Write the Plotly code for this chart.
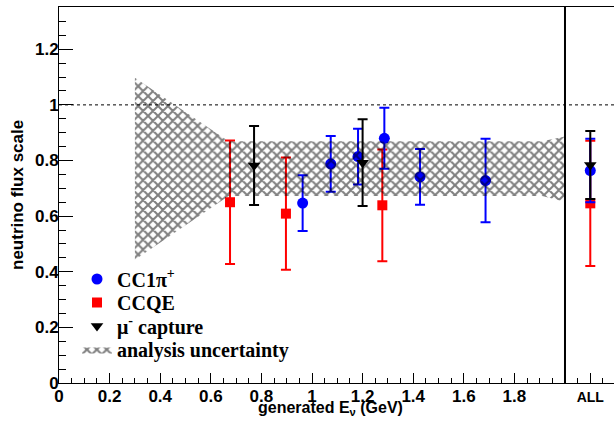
import plotly.graph_objects as go

# ---------------- data ----------------
ALL_POS = 2.1  # x position of the "ALL" category

cc1pi_E = [0.963, 1.074, 1.182, 1.286, 1.427, 1.686, ALL_POS]
cc1pi_v = [0.647, 0.788, 0.814, 0.880, 0.741, 0.728, 0.764]
cc1pi_err = [0.100, 0.100, 0.100, 0.110, 0.100, 0.150, 0.114]

ccqe_E = [0.676, 0.897, 1.278, ALL_POS]
ccqe_v = [0.650, 0.609, 0.639, 0.646]
ccqe_err = [0.222, 0.202, 0.201, 0.225]

mu_E = [0.771, 1.200, ALL_POS]
mu_v = [0.782, 0.792, 0.784]
mu_err = [0.142, 0.156, 0.122]

band_E = [0.30, 0.67, 1.00, 1.50, 1.91, 2.00]
band_hi = [1.098, 0.869, 0.869, 0.869, 0.869, 0.886]
band_lo = [0.443, 0.672, 0.672, 0.672, 0.672, 0.652]

x_tickvals = [0, 0.2, 0.4, 0.6, 0.8, 1.0, 1.2, 1.4, 1.6, 1.8, ALL_POS]
x_ticktext = ["0", "0.2", "0.4", "0.6", "0.8", "1", "1.2", "1.4", "1.6", "1.8",
              "<span style='font-size:14px'>ALL</span>"]
y_tickvals = [0, 0.2, 0.4, 0.6, 0.8, 1.0, 1.2]
y_ticktext = ["0", "0.2", "0.4", "0.6", "0.8", "1", "1.2"]

X_MAX = 2.1937
Y_MAX = 1.352

SANS = "Liberation Sans, Arial, sans-serif"
SERIF = "Liberation Serif, Times New Roman, serif"

PLOT_L, PLOT_W, PLOT_B, PLOT_H = 59, 555, 383, 376


def px_x(p):
    return (p - PLOT_L) / PLOT_W


def px_y(p):
    return (PLOT_B - p) / PLOT_H


fig = go.Figure()


def err(vals, color):
    return dict(type="data", array=vals, visible=True, color=color,
                thickness=2, width=5)


fig.add_trace(go.Scatter(
    x=ccqe_E, y=ccqe_v, mode="markers", name="<b>CCQE</b>", legend="legend2",
    marker=dict(symbol="square", size=10, color="#ff0000", line=dict(width=0)),
    error_y=err(ccqe_err, "#ff0000")))

fig.add_trace(go.Scatter(
    x=cc1pi_E, y=cc1pi_v, mode="markers", name="<b>CC1π<sup>+</sup></b>", legend="legend",
    marker=dict(symbol="circle", size=11, color="#0000ff", line=dict(width=0)),
    error_y=err(cc1pi_err, "#0000ff")))

fig.add_trace(go.Scatter(
    x=mu_E, y=mu_v, mode="markers", name="<b>μ<sup>-</sup> capture</b>", legend="legend3",
    marker=dict(symbol="triangle-down", size=11, color="black", line=dict(width=0)),
    error_y=err(mu_err, "black")))

fig.add_trace(go.Scatter(
    x=band_E + band_E[::-1], y=band_hi + band_lo[::-1],
    mode="lines", fill="toself", name="<b>analysis uncertainty</b>", legend="legend4",
    line=dict(width=0, color="rgba(0,0,0,0)"),
    fillcolor="black",
    fillpattern=dict(shape="x", size=7, solidity=0.5, fgcolor="black",
                     bgcolor="rgba(0,0,0,0)"),
    hoverinfo="skip"))

# reference lines
fig.add_shape(type="line", xref="x", yref="y", x0=0, x1=X_MAX, y0=1, y1=1,
              line=dict(color="black", width=1, dash="dot"))
fig.add_shape(type="line", xref="x", yref="y", x0=2.0, x1=2.0, y0=0, y1=Y_MAX,
              line=dict(color="black", width=2))

fig.add_annotation(text="<b>neutrino flux scale</b>", xref="paper", yref="paper",
                   x=px_x(17), y=0.5, xanchor="center", yanchor="middle",
                   textangle=-90, showarrow=False,
                   font=dict(family=SANS, size=17, color="black"))
fig.add_annotation(text="<b>generated E<sub>ν</sub> (GeV)</b>", xref="paper", yref="paper",
                   x=px_x(330), y=px_y(408), xanchor="center", yanchor="middle",
                   showarrow=False,
                   font=dict(family=SANS, size=16, color="black"))


def leg(center_y):
    return dict(x=px_x(77), y=px_y(center_y), xanchor="left", yanchor="middle",
                bgcolor="rgba(0,0,0,0)", borderwidth=0,
                font=dict(family=SERIF, size=20, color="black", weight="bold"))


fig.update_layout(
    width=614, height=422,
    margin=dict(l=PLOT_L, r=0, t=7, b=39),
    paper_bgcolor="white", plot_bgcolor="white",
    showlegend=True,
    legend=leg(279),
    legend2=leg(302.5),
    legend3=leg(326),
    legend4=leg(349.5),
    xaxis=dict(range=[0, X_MAX], showgrid=False, zeroline=False,
               showline=True, linecolor="black", linewidth=1, mirror=True,
               tickmode="array", tickvals=x_tickvals, ticktext=x_ticktext,
               ticks="inside", ticklen=10, tickcolor="black", tickwidth=1,
               ticklabelstandoff=-2,
               tickfont=dict(family=SANS, size=17, color="black", weight="bold"),
               minor=dict(dtick=0.05, tick0=0, ticks="inside", ticklen=5,
                          tickcolor="black", showgrid=False)),
    yaxis=dict(range=[0, Y_MAX], showgrid=False, zeroline=False,
               showline=True, linecolor="black", linewidth=1,
               tickmode="array", tickvals=y_tickvals, ticktext=y_ticktext,
               ticks="inside", ticklen=14, tickcolor="black", tickwidth=1,
               ticklabelstandoff=-4,
               tickfont=dict(family=SANS, size=17, color="black", weight="bold"),
               minor=dict(dtick=0.05, tick0=0, ticks="inside", ticklen=7,
                          tickcolor="black", showgrid=False)),
)

fig.write_html("out.html")
